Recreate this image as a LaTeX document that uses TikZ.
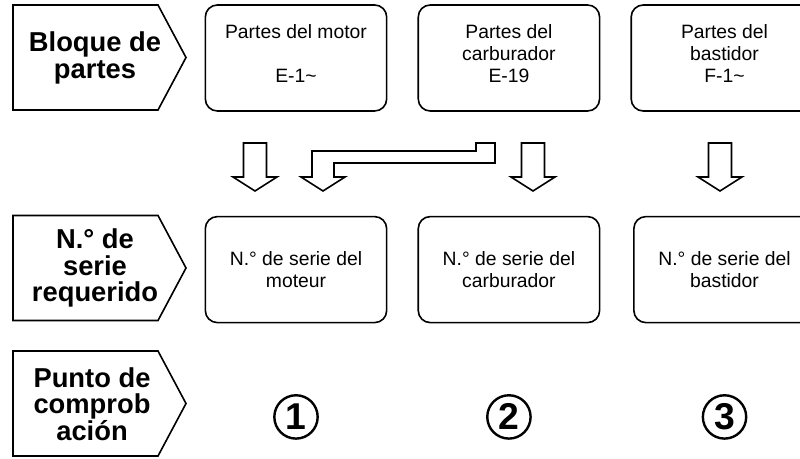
\documentclass[tikz,border=0pt]{standalone}
\usepackage{fontspec}
\setmainfont{Liberation Sans}
\usetikzlibrary{positioning}

\begin{document}
\begin{tikzpicture}
    [
      x=0.75pt,y=-0.75pt,
      tagtext/.style={align=center,font=\fontsize{20.5}{20}\selectfont\bfseries},
      tagline/.style={draw,line width=1.2pt,line join=miter},
      part/.style={draw,line width=1.2pt,rounded corners=9pt,minimum width=136pt,
        minimum height=79.5pt,align=center,font=\fontsize{14.5}{16.5}\selectfont},
      blockarrow/.style={draw,line width=1.2pt,line join=miter,fill=white},
      check/.style={circle,draw,line width=1.8pt,minimum size=32.5pt,inner sep=0pt,
        font=\fontsize{28}{28}\selectfont\bfseries},
    ]
    \useasboundingbox (0,0) rectangle (800,459);

    % left tags
    \foreach \cy in {57.5,268,403.5}
      \draw [tagline] (13,\cy-52.5) -- (158,\cy-52.5) -- (186,\cy)
        -- (158,\cy+52.5) -- (13,\cy+52.5) -- cycle;
    \node (tag-bloque) [tagtext] at (95,58) {Bloque de\\partes};
    \node (tag-serie) [tagtext] at (95,268) {N.° de\\serie\\requerido};
    \node (tag-punto) [tagtext] at (92,404) {Punto de\\comprob\\ación};

    % parts
    \node (part-motor) [part] at (296,58) {Partes del motor\\ \\E-1\textasciitilde\\[-10pt]};
    \node (part-carb) [part,right=22.5pt of part-motor] {Partes del\\carburador\\E-19\\[-10pt]};
    \node (part-bast) [part,right=22.5pt of part-carb,minimum width=140pt] {Partes del\\bastidor\\F-1\textasciitilde\\[-10pt]};

    % serial numbers
    \node (serie-motor) [part,below=78pt of part-motor] {N.° de serie del\\moteur};
    \node (serie-carb) [part,below=78pt of part-carb] {N.° de serie del\\carburador};
    \node (serie-bast) [part,below=78pt of part-bast] {N.° de serie del\\bastidor};

    % check points
    \node (check-1) [check,below=53pt of serie-motor] {1};
    \node (check-2) [check,below=53pt of serie-carb] {2};
    \node (check-3) [check,below=53pt of serie-bast] {3};

    % block arrows
    \foreach \c in {255,533,720}
      \draw [blockarrow] (\c-11.5,143) -- (\c+11.5,143) -- (\c+11.5,177) -- (\c+22,177)
        -- (\c,191) -- (\c-22,177) -- (\c-11.5,177) -- cycle;
    \draw [blockarrow] (476,143) -- (495,143) -- (495,163) -- (334,163) -- (334,177)
      -- (345,177) -- (323,191) -- (301,177) -- (312,177) -- (312,151) -- (476,151) -- cycle;

\end{tikzpicture}
\end{document}
